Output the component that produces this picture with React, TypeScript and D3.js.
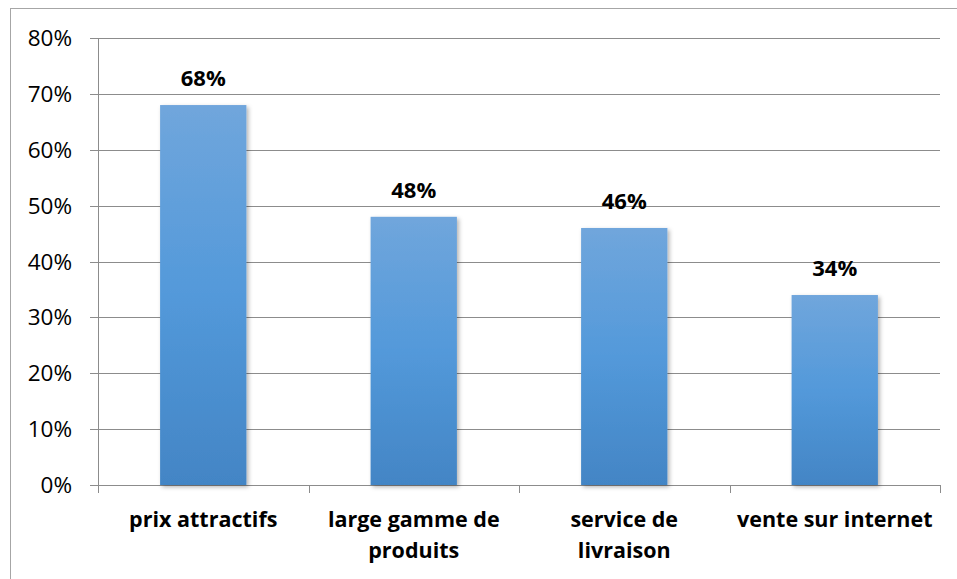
import React from "react";
import * as d3 from "d3";

const categories: string[][] = [
  ["prix attractifs"],
  ["large gamme de", "produits"],
  ["service de", "livraison"],
  ["vente sur internet"],
];
const values: number[] = [0.68, 0.48, 0.46, 0.34];
const yTicks: number[] = [0, 0.1, 0.2, 0.3, 0.4, 0.5, 0.6, 0.7, 0.8];

const W = 957;
const H = 579;
const left = 98;
const right = 940;
const top = 38;
const bottom = 485;

export default function App() {
  const x = d3
    .scaleBand<number>()
    .domain(values.map((_, i) => i))
    .range([left, right])
    .paddingInner(0.59)
    .paddingOuter(0.295);
  const xOuter = d3.scaleBand<number>().domain(values.map((_, i) => i)).range([left, right]);
  const y = d3.scaleLinear().domain([0, 0.8]).range([bottom, top]);
  const pct = d3.format(".0%");
  const font = "'Open Sans', 'Liberation Sans', sans-serif";

  return (
    <svg
      width={W}
      height={H}
      style={{ position: "absolute", left: 0, top: 0, background: "#fff" }}
    >
      <defs>
        <linearGradient id="barGrad" x1="0" y1="0" x2="0" y2="1">
          <stop offset="0%" stopColor="#70a6dc" />
          <stop offset="50%" stopColor="#5399da" />
          <stop offset="100%" stopColor="#4385c5" />
        </linearGradient>
        <filter id="shadow" x="-20%" y="-20%" width="140%" height="140%">
          <feDropShadow dx="2" dy="2" stdDeviation="2" floodColor="#000" floodOpacity="0.3" />
        </filter>
      </defs>
      <rect x={10.5} y={8.5} width={W} height={H} fill="none" stroke="#a6a6a6" strokeWidth={1} />
      {yTicks.map((t) => (
        <g key={t}>
          <line
            x1={left - 8}
            x2={right}
            y1={Math.round(y(t)) + 0.5}
            y2={Math.round(y(t)) + 0.5}
            stroke="#8c8c8c"
            strokeWidth={1}
          />
          <text
            x={72}
            y={y(t)}
            dy="0.36em"
            textAnchor="end"
            fontFamily={font}
            fontSize={22.5}
            fill="#000"
          >
            {pct(t)}
          </text>
        </g>
      ))}
      <line x1={left + 0.5} x2={left + 0.5} y1={top} y2={bottom + 8} stroke="#8c8c8c" />
      {values.map((_, i) => (
        <line
          key={"t" + i}
          x1={Math.round(xOuter(i)! + xOuter.bandwidth()) + 0.5}
          x2={Math.round(xOuter(i)! + xOuter.bandwidth()) + 0.5}
          y1={bottom}
          y2={bottom + 8}
          stroke="#8c8c8c"
        />
      ))}
      {values.map((v, i) => (
        <rect
          key={"b" + i}
          x={x(i)}
          y={y(v)}
          width={x.bandwidth()}
          height={y(0) - y(v)}
          fill="url(#barGrad)"
          filter="url(#shadow)"
        />
      ))}
      {values.map((v, i) => (
        <text
          key={"v" + i}
          x={x(i)! + x.bandwidth() / 2}
          y={y(v) - 19}
          textAnchor="middle"
          fontFamily={font}
          fontWeight="bold"
          fontSize={22}
          fill="#000"
        >
          {pct(v)}
        </text>
      ))}
      {categories.map((lines, i) => (
        <text
          key={"c" + i}
          x={xOuter(i)! + xOuter.bandwidth() / 2}
          y={527}
          textAnchor="middle"
          fontFamily={font}
          fontWeight="bold"
          fontSize={21.5}
          fill="#000"
        >
          {lines.map((l, j) => (
            <tspan key={j} x={xOuter(i)! + xOuter.bandwidth() / 2} dy={j === 0 ? 0 : 31}>
              {l}
            </tspan>
          ))}
        </text>
      ))}
    </svg>
  );
}
